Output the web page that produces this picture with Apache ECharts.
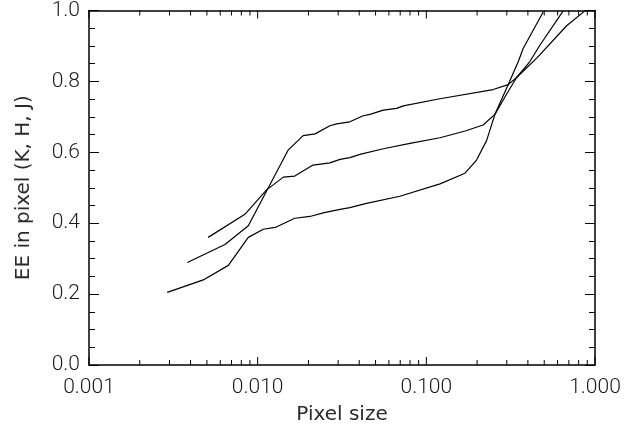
<!DOCTYPE html>
<html>
<head>
<meta charset="utf-8">
<script src="https://cdn.jsdelivr.net/npm/echarts@6/dist/echarts.min.js"></script>
<style>
html,body{margin:0;padding:0;background:#fff;}
#chart{width:624px;height:430px;}
</style>
</head>
<body>
<div id="chart"></div>
<script>
// Curve starting at ~0.36 (middle plateau)
const curveA = [
  [0.00509,0.360],[0.0084,0.425],[0.0113,0.494],[0.0142,0.530],[0.0166,0.533],
  [0.0213,0.564],[0.0268,0.570],[0.0308,0.580],[0.0352,0.585],[0.0404,0.594],
  [0.0556,0.610],[0.0800,0.625],[0.1205,0.641],[0.1700,0.660],[0.217,0.677],
  [0.255,0.707],[0.300,0.765],[0.343,0.811],[0.411,0.856],[0.471,0.902],[0.648,0.999]
];
// Curve starting at ~0.29 (top plateau)
const curveB = [
  [0.00383,0.289],[0.0064,0.340],[0.0088,0.393],[0.0152,0.607],[0.0186,0.647],
  [0.0219,0.652],[0.0268,0.675],[0.0294,0.680],[0.0352,0.686],[0.0423,0.703],
  [0.0463,0.707],[0.0556,0.719],[0.0667,0.724],[0.0730,0.731],[0.1205,0.751],
  [0.249,0.777],[0.306,0.791],[0.343,0.811],[0.450,0.865],[0.679,0.957],[0.871,0.999]
];
// Curve starting at ~0.20 (bottom plateau, steep rise)
const curveC = [
  [0.00291,0.205],[0.00476,0.240],[0.0067,0.281],[0.0088,0.360],[0.0108,0.383],
  [0.0127,0.388],[0.0166,0.414],[0.0204,0.419],[0.0248,0.430],[0.0308,0.439],
  [0.0352,0.444],[0.0442,0.456],[0.0697,0.476],[0.1205,0.511],[0.1695,0.541],
  [0.1985,0.578],[0.2276,0.633],[0.255,0.707],[0.306,0.791],[0.351,0.856],
  [0.375,0.893],[0.493,0.996]
];
const xTickLabels = {0.001:'0.001',0.01:'0.010',0.1:'0.100',1:'1.000'};
const xMajorTicks = [0.001,0.01,0.1,1];
const xMinorTicks = [0.002,0.003,0.004,0.005,0.006,0.007,0.008,0.009,
  0.02,0.03,0.04,0.05,0.06,0.07,0.08,0.09,
  0.2,0.3,0.4,0.5,0.6,0.7,0.8,0.9];

const LABEL_FONT = 'Roboto, "Liberation Sans", sans-serif';
const TITLE_FONT = '"DejaVu Sans", sans-serif';
const TXT = '#1a1a1a';
const chart = echarts.init(document.getElementById('chart'), null, {renderer:'canvas'});

function fmtX(v){
  const k = Math.round(Math.log10(v));
  return xTickLabels[Math.pow(10,k)] || v.toFixed(3);
}

const axisLineStyle = {color:'#000', width:1.5};
const lineStyle = {color:'#000', width:1.2};

chart.setOption({
  animation:false,
  backgroundColor:'#fff',
  grid:{left:89, right:29, top:8, bottom:62, containLabel:false},
  xAxis:[
    {type:'log', logBase:10, min:0.001, max:1, position:'bottom',
     name:'Pixel size', nameLocation:'middle', nameGap:40,
     nameTextStyle:{fontFamily:TITLE_FONT, fontSize:20, fontWeight:'normal', color:'#2a2a2a'},
     axisLine:{show:true, lineStyle:axisLineStyle, onZero:false},
     axisTick:{show:false},
     axisLabel:{show:true, fontFamily:LABEL_FONT, fontSize:21, fontWeight:300, color:TXT, margin:12, formatter:fmtX},
     splitLine:{show:false}, minorTick:{show:false}},
    {type:'log', logBase:10, min:0.001, max:1, position:'top',
     axisLine:{show:true, lineStyle:axisLineStyle, onZero:false},
     axisTick:{show:false},
     axisLabel:{show:false}, splitLine:{show:false}}
  ],
  yAxis:[
    {type:'value', min:0, max:1, interval:0.2, position:'left',
     name:'EE in pixel (K, H, J)', nameLocation:'middle', nameGap:55, nameRotate:90,
     nameTextStyle:{fontFamily:TITLE_FONT, fontSize:20, fontWeight:'normal', color:'#2a2a2a'},
     axisLine:{show:true, lineStyle:axisLineStyle, onZero:false},
     axisTick:{show:true, inside:true, length:10, lineStyle:{color:'#000', width:1}},
     minorTick:{show:true, splitNumber:4, length:6, lineStyle:{color:'#000', width:1}},
     axisLabel:{show:true, fontFamily:LABEL_FONT, fontSize:21, fontWeight:300, color:TXT, margin:9,
       formatter:v=>v.toFixed(1)},
     splitLine:{show:false}, minorSplitLine:{show:false}},
    {type:'value', min:0, max:1, interval:0.2, position:'right',
     axisLine:{show:true, lineStyle:axisLineStyle, onZero:false},
     axisTick:{show:true, inside:true, length:10, lineStyle:{color:'#000', width:1}},
     minorTick:{show:true, splitNumber:4, length:6, lineStyle:{color:'#000', width:1}},
     axisLabel:{show:false}, splitLine:{show:false}, minorSplitLine:{show:false}}
  ],
  series:[
    {type:'line', data:curveA, showSymbol:false, lineStyle:lineStyle, silent:true},
    {type:'line', data:curveB, showSymbol:false, lineStyle:lineStyle, silent:true},
    {type:'line', data:curveC, showSymbol:false, lineStyle:lineStyle, silent:true},
    {type:'custom', silent:true, clip:false,
     data:xMinorTicks.map(v=>[v,5]).concat(xMajorTicks.map(v=>[v,8])),
     renderItem:function(params, api){
       const v = api.value(0);
       const len = api.value(1);
       const b = api.coord([v, 0]);
       const t = api.coord([v, 1]);
       return {type:'group', children:[
         {type:'line', shape:{x1:b[0], y1:b[1], x2:b[0], y2:b[1]-len}, style:{stroke:'#000', lineWidth:1}},
         {type:'line', shape:{x1:t[0], y1:t[1], x2:t[0], y2:t[1]+len}, style:{stroke:'#000', lineWidth:1}}
       ]};
     }}
  ]
});
</script>
</body>
</html>
